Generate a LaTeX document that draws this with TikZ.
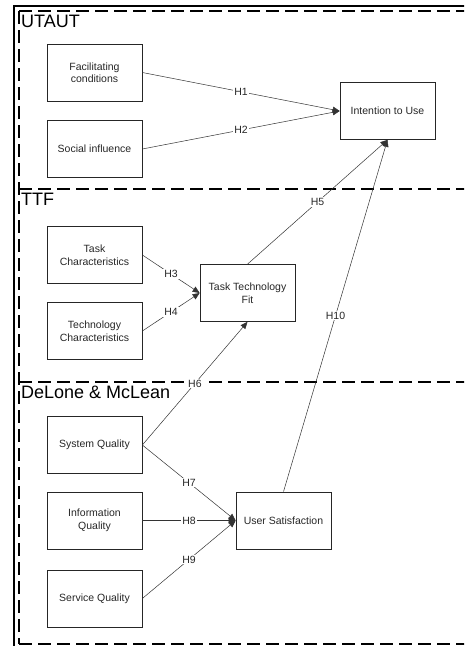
\documentclass[tikz,border=0pt]{standalone}
\usepackage{fontspec}
\setmainfont{Liberation Sans}
\usetikzlibrary{arrows.meta}

\begin{document}
\begin{tikzpicture}[x=1pt,y=-1pt,
    font=\fontsize{10.5}{12.5}\selectfont,
    box/.style={draw,black!85,text=black!85,line width=0.7pt,minimum width=95pt,minimum height=57pt,align=center},
    hyp/.style={draw,black!80,line width=0.5pt,-{Triangle[length=7pt,width=6pt]}},
    lbl/.style={fill=white,inner sep=1pt,text=black!85},
    frame/.style={line width=1.4pt,dash pattern=on 13pt off 6pt},
    title/.style={anchor=north west,inner sep=1pt,font=\fontsize{18}{20}\selectfont}]
    \useasboundingbox (0,0) rectangle (464,646);
    \clip (0,0) rectangle (464,646);
    % outer frame
    \draw[line width=1.6pt] (14,646) -- (14,6) -- (470,6);
    % model groups
    \draw[frame] (19,11) -- (19,644);
    \foreach \top/\name in {11/UTAUT, 189/TTF, 382/DeLone \& McLean} {
        \draw[frame] (19,\top) -- (480,\top);
        \node[title] (t\top) at (20,\top+3) {\name};
    }
    \draw[frame] (19,644) -- (480,644);
    % constructs
    \node[box] (fac) at (94.5,72.5) {Facilitating\\conditions};
    \node[box] (soc) at (94.5,149) {Social influence};
    \node[box] (itu) at (387.5,111) {Intention to Use};
    \node[box] (task) at (94.5,255) {Task\\Characteristics};
    \node[box] (tech) at (94.5,331) {Technology\\Characteristics};
    \node[box] (ttf) at (247.5,293) {Task Technology\\Fit};
    \node[box] (sys) at (94.5,445) {System Quality};
    \node[box] (info) at (94.5,520.5) {Information\\Quality};
    \node[box] (serv) at (94.5,598.5) {Service Quality};
    \node[box] (us) at (283.5,520.5) {User Satisfaction};
    % hypotheses
    \foreach \from/\to/\h in {fac.east/itu.west/H1, soc.east/itu.west/H2,
        task.east/ttf.west/H3, tech.east/ttf.west/H4, ttf.north/itu.south/H5,
        sys.east/ttf.south/H6, sys.east/us.west/H7, info.east/us.west/H8,
        serv.east/us.west/H9, us.north/itu.south/H10} {
        \draw[hyp] (\from) -- node[lbl] {\h} (\to);
    }
\end{tikzpicture}
\end{document}
